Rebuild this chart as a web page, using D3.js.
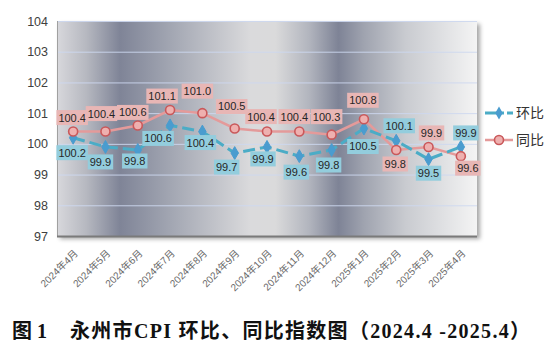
<!DOCTYPE html>
<html><head><meta charset="utf-8">
<script src="https://cdn.jsdelivr.net/npm/d3@7"></script>
<style>
body{margin:0;background:#fff;}
svg{display:block;}
</style></head>
<body><svg id="c" width="553" height="363"></svg>
<script>
const categories = ["2024年4月","2024年5月","2024年6月","2024年7月","2024年8月","2024年9月","2024年10月","2024年11月","2024年12月","2025年1月","2025年2月","2025年3月","2025年4月"];
const momValues = [100.2, 99.9, 99.8, 100.6, 100.4, 99.7, 99.9, 99.6, 99.8, 100.5, 100.1, 99.5, 99.9]; // 环比
const yoyValues = [100.4, 100.4, 100.6, 101.1, 101.0, 100.5, 100.4, 100.4, 100.3, 100.8, 99.8, 99.9, 99.6]; // 同比
const yTicks = [97, 98, 99, 100, 101, 102, 103, 104];
const seriesNames = ["环比", "同比"];
const titleText = ["图", "1", "永州市CPI 环比、同比指数图（2024.4 -2025.4）"];

// label placement offsets (style only) [dx, dy]
const momLabelOffsets = [[-1,15],[-5,15],[-3,11],[-12,13],[-2,11],[-8,14],[-4,12],[-3,16],[-3,15],[-1,18],[3,-15],[0,14],[5,-14]];
const yoyLabelOffsets = [[-1,-14],[-4,-18],[-5,-13],[-8,-14],[-5,-22],[-3,-22],[-6,-15],[-5,-15],[-5,-18],[-1,-19],[-1,14],[3,-14],[7,12]];

const svg = d3.select("#c");
const plot = {left:57, right:477, top:21, bottom:236};

const x = d3.scalePoint().domain(categories).range([plot.left, plot.right]).padding(0.5);
const y = d3.scaleLinear().domain([97,104]).range([plot.bottom, plot.top]);

const defs = svg.append("defs");
const grad = defs.append("linearGradient").attr("id","bg").attr("x1","0").attr("x2","1").attr("y1","0").attr("y2","0");
[[0,"#d8d8dc"],[0.07,"#b6b8c0"],[0.15,"#7f8497"],[0.27,"#a2a6b2"],[0.46,"#dadadc"],[0.52,"#dadadb"],[0.6,"#b2b5be"],[0.67,"#7e8396"],[0.73,"#9fa3af"],[0.83,"#c9cbd0"],[1,"#f4f4f4"]]
  .forEach(([o,c]) => grad.append("stop").attr("offset",o).attr("stop-color",c));
const sh = defs.append("filter").attr("id","sh").attr("x","-5%").attr("y","-5%").attr("width","115%").attr("height","115%");
sh.append("feDropShadow").attr("dx",3).attr("dy",3).attr("stdDeviation",2).attr("flood-color","#000").attr("flood-opacity",0.35);

// plot background
svg.append("rect").attr("x",plot.left).attr("y",plot.top)
  .attr("width",plot.right-plot.left).attr("height",plot.bottom-plot.top)
  .attr("fill","url(#bg)").attr("filter","url(#sh)");

// gridlines
svg.append("g").selectAll("line").data(yTicks.filter(t=>t>97)).join("line")
  .attr("x1",plot.left).attr("x2",plot.right)
  .attr("y1",d=>y(d)+0.5).attr("y2",d=>y(d)+0.5)
  .attr("stroke","#cdd8f0").attr("stroke-width",1).attr("opacity",0.9);

// axes lines
svg.append("line").attr("x1",plot.left+0.5).attr("x2",plot.left+0.5).attr("y1",plot.top).attr("y2",plot.bottom)
  .attr("stroke","#a0a0a0").attr("stroke-width",1);
svg.append("line").attr("x1",plot.left).attr("x2",plot.right).attr("y1",plot.bottom+0.5).attr("y2",plot.bottom+0.5)
  .attr("stroke","#7a7a7a").attr("stroke-width",2);

// y axis labels
const yAxis = d3.axisLeft(y).tickValues(yTicks).tickSize(0).tickPadding(9).tickFormat(d3.format("d"));
const yg = svg.append("g").attr("transform",`translate(${plot.left},0)`).call(yAxis);
yg.select(".domain").remove();
yg.selectAll("text").attr("font-family","'Liberation Sans', Arial, sans-serif").attr("font-size",12.5).attr("fill","#404040");

// x axis labels
const xAxis = d3.axisBottom(x).tickSize(0).tickPadding(0);
const xg = svg.append("g").attr("transform",`translate(0,${plot.bottom})`).call(xAxis);
xg.select(".domain").remove();
xg.selectAll("text")
  .attr("font-family","'Liberation Sans', 'Noto Sans CJK SC', sans-serif").attr("font-size",10)
  .attr("fill","#6a6a6a").attr("text-anchor","end")
  .attr("dy",0).attr("y",0)
  .attr("transform","translate(5,18) rotate(-45)");

// lines
const line = d3.line().x((d,i)=>x(categories[i])).y(d=>y(d));
svg.append("path").datum(yoyValues).attr("d",line).attr("fill","none")
  .attr("stroke","#e49a9a").attr("stroke-width",2.5);
svg.append("path").datum(momValues).attr("d",line).attr("fill","none")
  .attr("stroke","#4bacc6").attr("stroke-width",3).attr("stroke-dasharray","12,5");

// markers
const diamond = d3.symbol().type(d3.symbolDiamond).size(48);
svg.append("g").selectAll("path").data(momValues).join("path")
  .attr("d",diamond).attr("transform",(d,i)=>`translate(${x(categories[i])},${y(d)})`)
  .attr("fill","#4a9ccf").attr("stroke","#4a9ccf").attr("stroke-width",1);
svg.append("g").selectAll("circle").data(yoyValues).join("circle")
  .attr("cx",(d,i)=>x(categories[i])).attr("cy",d=>y(d)).attr("r",4.5)
  .attr("fill","#eeb0af").attr("stroke","#c9585a").attr("stroke-width",1.6);

// data labels
function labels(values, offsets, bg){
  const g = svg.append("g");
  values.forEach((v,i)=>{
    const cx = x(categories[i]) + offsets[i][0];
    const cy = y(v) + offsets[i][1];
    const t = g.append("text").attr("x",cx).attr("y",cy).attr("dy","0.36em")
      .attr("text-anchor","middle").attr("font-family","'Liberation Sans', Arial, sans-serif")
      .attr("font-size",11).attr("fill","#262626").text(d3.format(".1f")(v));
    const bb = t.node().getBBox();
    g.insert("rect", function(){return t.node();}).attr("x",bb.x-2).attr("y",cy-7.5).attr("width",bb.width+4).attr("height",15).attr("fill",bg);
  });
}
labels(yoyValues, yoyLabelOffsets, "#e8b6b5");
labels(momValues, momLabelOffsets, "#93cddd");

// legend
const lg = svg.append("g");
[[113,"mom"],[140,"yoy"]].forEach(([ly,k],j)=>{
  if(k==="mom"){
    lg.append("line").attr("x1",485).attr("x2",513).attr("y1",ly).attr("y2",ly).attr("stroke","#4bacc6").attr("stroke-width",3).attr("stroke-dasharray","19,3,6");
    lg.append("path").attr("d",diamond).attr("transform",`translate(499,${ly})`).attr("fill","#4a9ccf");
  } else {
    lg.append("line").attr("x1",485).attr("x2",513).attr("y1",ly).attr("y2",ly).attr("stroke","#e49a9a").attr("stroke-width",2.5);
    lg.append("circle").attr("cx",499).attr("cy",ly).attr("r",4.5).attr("fill","#eeb0af").attr("stroke","#c9585a").attr("stroke-width",1.6);
  }
  lg.append("text").attr("x",516).attr("y",ly).attr("dy","0.36em").attr("font-family","'Noto Sans CJK SC', sans-serif")
    .attr("font-size",14).attr("fill","#333").text(seriesNames[j]);
});

// title
const tf = "'Liberation Serif', 'Noto Sans CJK SC', serif";
const tg = svg.append("g").attr("font-family",tf).attr("font-weight","bold").attr("font-size",20).attr("fill","#111");
tg.append("text").attr("x",12).attr("y",338).text(titleText[0]);
tg.append("text").attr("x",37).attr("y",338).text(titleText[1]);
tg.append("text").attr("x",70).attr("y",338).attr("textLength",460).attr("lengthAdjust","spacing").text(titleText[2]);
</script></body></html>
